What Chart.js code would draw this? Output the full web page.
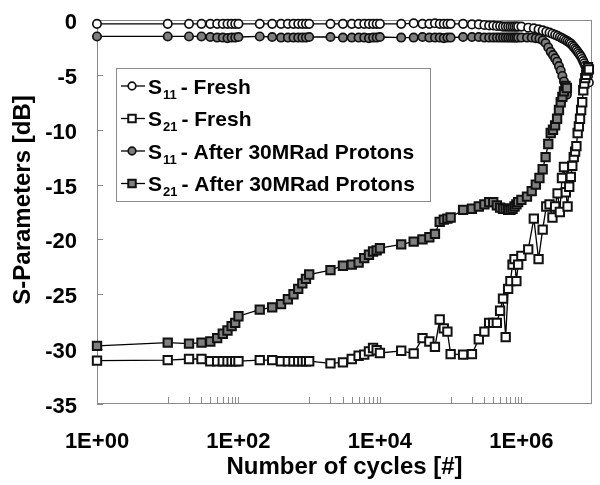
<!DOCTYPE html>
<html><head><meta charset="utf-8">
<script src="https://cdn.jsdelivr.net/npm/chart.js@4.4.0/dist/chart.umd.min.js"></script>
<style>html,body{margin:0;padding:0;background:#fff}#wrap{width:600px;height:485px}</style>
</head><body><div id="wrap"><canvas id="c" width="600" height="485"></canvas></div>
<script>
// ---- data ----
const cyclesFresh = [1,
  10,20,30,40,50,60,70,80,90,
  100,200,300,400,500,600,700,800,900,
  1000,2000,3000,4000,5000,6000,7000,8000,9000,
  10000,20000,30000,40000,50000,60000,70000,80000,90000,
  100000,150000,200000,250000,300000,350000,400000,450000,500000,550000,600000,650000,700000,750000,800000,850000,900000,
  1000000,1250000,1500000,1750000,2000000,2250000,2500000,2750000,3000000,3250000,3500000,3750000,4000000,4250000,4500000,4750000,
  5000000,5250000,5500000,5750000,6000000,6250000,6500000,6750000,7000000,7250000,7500000,7750000,8000000,8250000,8500000,8750000,9000000];
const s11Fresh = [-0.35,
  -0.35,-0.35,-0.35,-0.35,-0.35,-0.35,-0.35,-0.35,-0.35,
  -0.35,-0.35,-0.35,-0.35,-0.35,-0.35,-0.35,-0.35,-0.35,
  -0.35,-0.35,-0.35,-0.35,-0.35,-0.35,-0.35,-0.35,-0.35,
  -0.35,-0.35,-0.3,-0.35,-0.35,-0.3,-0.35,-0.35,-0.35,
  -0.35,-0.35,-0.4,-0.4,-0.45,-0.5,-0.5,-0.55,-0.55,-0.6,-0.6,-0.6,-0.6,-0.6,-0.6,-0.6,-0.6,
  -0.6,-0.7,-0.75,-0.85,-0.95,-1.05,-1.15,-1.25,-1.35,-1.45,-1.55,-1.65,-1.75,-1.85,-1.95,-2.05,
  -2.15,-2.3,-2.45,-2.6,-2.75,-2.9,-3.05,-3.2,-3.35,-3.55,-3.75,-3.95,-4.15,-4.4,-4.7,-5.1,-5.7];
const s21Fresh = [-31.05,
  -31.0,-30.9,-30.9,-31.1,-31.1,-31.1,-31.1,-31.1,-31.1,
  -31.1,-31.0,-31.0,-31.1,-31.1,-31.1,-31.1,-31.1,-31.1,
  -31.1,-31.3,-31.2,-30.9,-30.6,-30.5,-30.2,-29.9,-30.1,
  -30.35,-30.15,-30.4,-29.0,-29.3,-29.8,-27.3,-28.1,-28.4,
  -30.45,-30.5,-30.45,-29.1,-28.4,-27.6,-27.6,-27.6,-26.5,-25.4,-28.9,-24.5,-23.8,-22.3,-21.8,-23.8,-22.3,
  -21.5,-20.9,-18.1,-21.8,-19.1,-17.0,-16.8,-18.0,-17.0,-15.8,-17.5,-14.4,-13.4,-15.7,-17.0,-15.2,
  -14.3,-13.3,-12.5,-12.0,-11.5,-10.3,-9.7,-9.0,-8.2,-7.5,-6.4,-5.8,-5.3,-5.0,-4.6,-4.3,-4.5];
const cyclesAfter = [1,
  10,20,30,40,50,60,70,80,90,
  100,200,300,400,500,600,700,800,900,
  1000,2000,3000,4000,5000,6000,7000,8000,9000,
  10000,20000,30000,40000,50000,60000,70000,80000,90000,
  100000,150000,200000,250000,300000,350000,400000,450000,500000,550000,600000,650000,700000,750000,800000,850000,900000,
  1000000,1200000,1400000,1600000,1800000,2000000,2200000,2400000,2600000,2800000,3000000,3200000,3400000,3600000,3800000,4000000,4200000,4400000];
const s11After = [-1.5,
  -1.5,-1.5,-1.5,-1.55,-1.6,-1.6,-1.65,-1.6,-1.6,
  -1.55,-1.5,-1.55,-1.6,-1.6,-1.6,-1.6,-1.6,-1.6,
  -1.55,-1.55,-1.6,-1.6,-1.6,-1.6,-1.65,-1.6,-1.6,
  -1.55,-1.6,-1.6,-1.55,-1.6,-1.6,-1.6,-1.65,-1.6,
  -1.6,-1.55,-1.55,-1.55,-1.6,-1.6,-1.6,-1.6,-1.6,-1.6,-1.6,-1.6,-1.6,-1.6,-1.6,-1.6,-1.6,
  -1.6,-1.6,-1.6,-1.65,-1.7,-1.85,-2.1,-2.5,-2.9,-3.2,-3.5,-3.8,-4.2,-4.6,-5.1,-5.6,-6.2,-6.8];
const s21After = [-29.7,
  -29.4,-29.5,-29.4,-29.3,-29.0,-28.6,-28.3,-27.9,-27.6,
  -27.0,-26.4,-26.2,-25.9,-25.45,-25.0,-24.5,-24.0,-23.6,
  -23.2,-22.8,-22.4,-22.3,-22.1,-21.7,-21.4,-21.1,-21.0,
  -20.8,-20.45,-20.2,-20.0,-19.8,-19.5,-18.4,-18.2,-18.1,
  -18.0,-17.3,-17.2,-17.0,-16.8,-16.6,-16.6,-16.9,-17.1,-17.2,-17.2,-17.3,-17.3,-17.2,-17.0,-16.8,-16.6,
  -16.4,-16.1,-15.6,-15.0,-14.4,-13.6,-12.5,-11.3,-10.3,-10.0,-9.6,-9.0,-8.2,-7.5,-7.0,-6.5,-6.0,-6.2];
const seriesNames = ['S11 - Fresh', 'S21 - Fresh', 'S11 - After 30MRad Protons', 'S21 - After 30MRad Protons'];
const xTickValues = [1, 100, 10000, 1000000];
const xTickLabels = ['1E+00', '1E+02', '1E+04', '1E+06'];
const yTickValues = [0, -5, -10, -15, -20, -25, -30, -35];
const xTitle = 'Number of cycles [#]';
const yTitle = 'S-Parameters [dB]';

// ---- chart ----
const FONT = "'Liberation Sans', Arial, Helvetica, sans-serif";
Chart.defaults.font.family = FONT;
const AXIS_GRAY = '#8a8a8a';

function pts(xs, ys) { return xs.map((x, i) => ({ x: x, y: ys[i] })); }

const common = { showLine: true, borderColor: '#000', borderWidth: 1.3, pointBorderColor: '#111',
  clip: false, tension: 0, pointHoverRadius: 4 };

const datasets = [
  Object.assign({}, common, { label: seriesNames[0], data: pts(cyclesFresh, s11Fresh), pointStyle: 'circle', pointRadius: 4.2, pointBorderWidth: 1.7, pointBackgroundColor: '#ffffff', order: 2 }),
  Object.assign({}, common, { label: seriesNames[1], data: pts(cyclesFresh, s21Fresh), pointStyle: 'rect', pointRadius: 5.9, pointBorderWidth: 2, pointBackgroundColor: '#ffffff', order: 1 }),
  Object.assign({}, common, { label: seriesNames[2], data: pts(cyclesAfter, s11After), pointStyle: 'circle', pointRadius: 4.2, pointBorderWidth: 1.7, pointBackgroundColor: '#7f7f7f', order: 4 }),
  Object.assign({}, common, { label: seriesNames[3], data: pts(cyclesAfter, s21After), pointStyle: 'rect', pointRadius: 5.9, pointBorderWidth: 2, pointBackgroundColor: '#7f7f7f', order: 3 })
];

const frameTicks = {
  id: 'frameTicks',
  beforeDatasetsDraw(chart) {
    const ctx = chart.ctx, a = chart.chartArea, xs = chart.scales.x, ys = chart.scales.y;
    ctx.save();
    ctx.strokeStyle = AXIS_GRAY; ctx.lineWidth = 1;
    ctx.strokeRect(Math.round(a.left) + 0.5, Math.round(a.top) + 0.5, Math.round(a.right - a.left) - 1, Math.round(a.bottom - a.top) - 1);
    ctx.beginPath();
    // minor ticks inside the bottom axis (decades 10-100, 1e3-1e4, 1e5-1e6)
    [1, 3, 5].forEach(d => {
      for (let m = 1; m <= 10; m++) {
        const px = Math.round(xs.getPixelForValue(m * Math.pow(10, d))) + 0.5;
        ctx.moveTo(px, a.bottom - 1); ctx.lineTo(px, a.bottom - 7);
      }
    });
    yTickValues.forEach(v => {
      const py = Math.round(ys.getPixelForValue(v)) + 0.5;
      ctx.moveTo(a.left, py); ctx.lineTo(a.left + 6, py);
    });
    ctx.stroke();
    // y-axis title
    ctx.fillStyle = '#000';
    ctx.font = 'bold 24px ' + FONT;
    ctx.textAlign = 'center'; ctx.textBaseline = 'middle';
    ctx.translate(23, 200); ctx.rotate(-Math.PI / 2);
    ctx.fillText(yTitle, 0, 0);
    ctx.restore();
  }
};

function drawMarker(ctx, style, r, x, y) {
  if (Chart.helpers && Chart.helpers.drawPoint) {
    Chart.helpers.drawPoint(ctx, { pointStyle: style, radius: r, rotation: 0, borderWidth: ctx.lineWidth }, x, y);
  } else {
    ctx.beginPath();
    if (style === 'circle') ctx.arc(x, y, r, 0, Math.PI * 2);
    else { const s = r * Math.SQRT1_2; ctx.rect(x - s, y - s, 2 * s, 2 * s); }
    ctx.fill(); ctx.stroke();
  }
}

const boxLegend = {
  id: 'boxLegend',
  afterDatasetsDraw(chart) {
    const ctx = chart.ctx;
    const bx = 116, by = 68, bw = 314, bh = 133;
    ctx.save();
    ctx.fillStyle = '#fff'; ctx.fillRect(bx, by, bw, bh);
    ctx.strokeStyle = AXIS_GRAY; ctx.lineWidth = 1;
    ctx.strokeRect(bx + 0.5, by + 0.5, bw, bh);
    chart.data.datasets.forEach((ds, i) => {
      const cy = 86 + i * 32.5;
      ctx.strokeStyle = '#000'; ctx.lineWidth = 1.3;
      ctx.beginPath(); ctx.moveTo(121, cy); ctx.lineTo(145, cy); ctx.stroke();
      ctx.fillStyle = ds.pointBackgroundColor; ctx.strokeStyle = ds.pointBorderColor; ctx.lineWidth = ds.pointBorderWidth;
      drawMarker(ctx, ds.pointStyle, ds.pointStyle === 'rect' ? 5.3 : 3.8, 132, cy);
      const m = /^S(\d+)\s*(.*)$/.exec(ds.label);
      ctx.fillStyle = '#000'; ctx.textBaseline = 'alphabetic'; ctx.textAlign = 'left';
      ctx.font = 'bold 21px ' + FONT;
      let x = 148;
      ctx.fillText('S', x, cy + 7.5);
      x += ctx.measureText('S').width + 1;
      ctx.font = 'bold 13px ' + FONT;
      ctx.fillText(m[1], x, cy + 12.5);
      x += ctx.measureText(m[1]).width + 4;
      ctx.font = 'bold 21px ' + FONT;
      ctx.fillText(m[2], x, cy + 7.5);
    });
    ctx.restore();
  }
};

new Chart(document.getElementById('c'), {
  type: 'scatter',
  data: { datasets: datasets },
  options: {
    responsive: false, animation: false, devicePixelRatio: 1,
    layout: { padding: { top: 20, right: 5, left: 0, bottom: 0 } },
    plugins: { legend: { display: false }, tooltip: { enabled: false } },
    scales: {
      x: {
        type: 'logarithmic', position: 'bottom', min: 1, max: 1e7,
        afterBuildTicks: s => { s.ticks = xTickValues.map(v => ({ value: v })); },
        ticks: { autoSkip: false, maxRotation: 0, color: '#000', font: { size: 22, weight: 'bold' }, padding: 25,
          callback: (v, i) => xTickLabels[i] },
        grid: { display: false, drawTicks: false }, border: { display: false },
        title: { display: true, text: xTitle, color: '#000', font: { size: 24, weight: 'bold' }, padding: { top: 0, bottom: 3 } },
        afterFit: s => { s.height = 81; s.paddingLeft = 0; s.paddingRight = 0; }
      },
      y: {
        min: -35, max: 0,
        afterBuildTicks: s => { s.ticks = yTickValues.map(v => ({ value: v })); },
        ticks: { color: '#000', font: { size: 22, weight: 'bold' }, padding: 20, labelOffset: 3 },
        grid: { display: false, drawTicks: false }, border: { display: false },
        title: { display: false },
        afterFit: s => { s.width = 97; s.paddingTop = 0; s.paddingBottom = 0; }
      }
    }
  },
  plugins: [frameTicks, boxLegend]
});
</script>
</body></html>
